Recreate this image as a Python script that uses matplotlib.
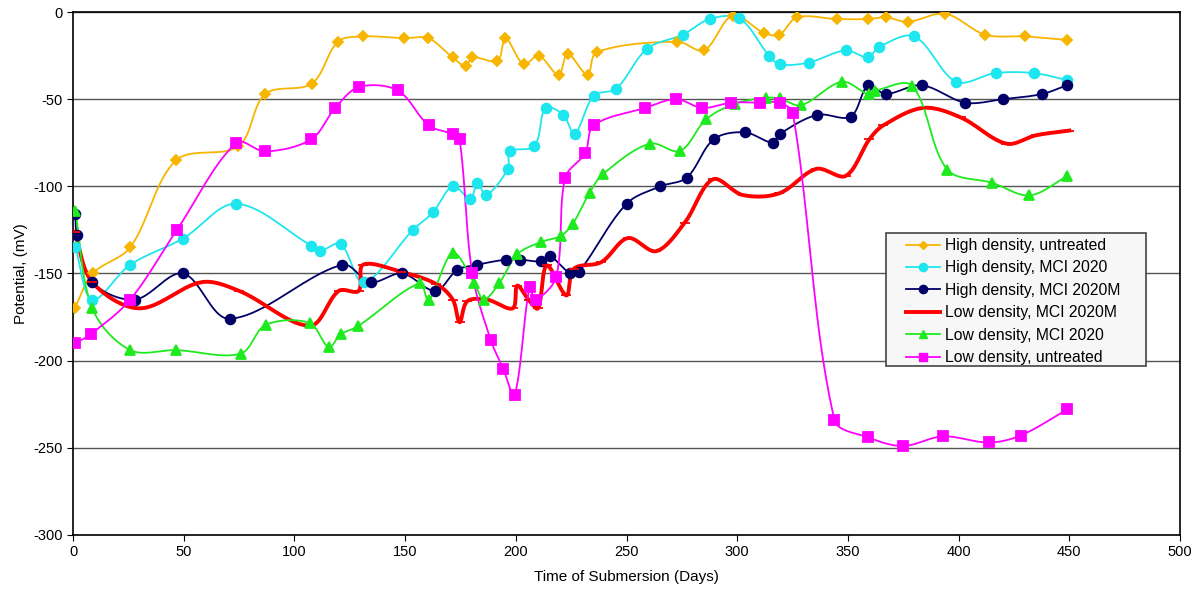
import numpy as np
import matplotlib.pyplot as plt
from matplotlib.patches import Rectangle

plt.rcParams['font.family'] = ['Liberation Sans', 'DejaVu Sans']
plt.rcParams['axes.unicode_minus'] = False

# High density, untreated
hd_untr_x = [0.7, 8.9, 25.8, 46.6, 74.7, 86.8, 107.9, 119.6, 130.8, 149.7, 160.5, 171.4, 177.3, 180.4,
             191.7, 195.3, 203.5, 210.3, 219.3, 223.4, 232.4, 236.5, 273, 285, 298, 312, 319, 327,
             345, 359, 367, 377, 394, 412, 430, 449]
hd_untr_y = [-170, -150, -135, -85, -77, -47, -41, -17, -14, -15, -15, -26, -31, -26,
             -28, -15, -30, -25, -36, -24, -36, -23, -17, -22, -2, -12, -13, -3,
             -4, -4, -3, -5.6, -1, -13, -14, -16]

# High density, MCI 2020
hd_mci_x = [1, 8.7, 25.8, 49.6, 73.7, 107.6, 111.6, 120.8, 131.3, 153.5, 162.5, 171.5, 179.5, 182.6,
            186.6, 196.4, 197.3, 208.4, 213.4, 221.5, 226.5, 235.2, 245.3, 259.3, 275.4, 287.5, 301,
            314.3, 319.1, 332.2, 349, 359, 364, 380, 398.9, 416.7, 433.9, 448.9]
hd_mci_y = [-135, -165, -145, -130, -110, -134, -137, -133, -155, -125, -115, -100, -107, -98,
            -105, -90, -80, -77, -55, -59, -70, -48, -44, -21, -13, -4, -3.6,
            -25, -30, -29, -22, -26, -20, -14, -40, -35, -35, -39]

# High density, MCI 2020M
hd_mcim_x = [1, 1.7, 8.7, 27.8, 49.6, 70.7, 121.6, 134.4, 148.7, 163.7, 173.5, 182.6, 195.7, 201.7,
             211.2, 215.2, 224.6, 228.5, 250, 265.3, 277.2, 289.4, 303.3, 316.1, 319.1, 336.1,
             351.2, 359.2, 367, 383.3, 403, 420, 437.8, 448.9]
hd_mcim_y = [-116, -128, -155, -165, -150, -176, -145, -155, -150, -160, -148, -145, -142, -142,
             -143, -140, -150, -149, -110, -100, -95, -73, -69, -75, -70, -59,
             -60, -42, -47, -42, -52, -50, -47, -42]

# Low density, MCI 2020M
ld_mcim_x = [0.7, 8.7, 30, 58, 75, 107, 120, 129, 131, 148, 164, 171.5, 174.6, 178, 187, 198.6,
             200.6, 206, 210, 214, 222.8, 226.2, 238.6, 250.6, 263.4, 276.2, 289, 302.5, 319,
             335.7, 349, 359.7, 366, 384, 401, 421.5, 435, 450]
ld_mcim_y = [-126, -155, -170, -155, -160, -180, -160, -160, -145, -149, -156, -165, -178, -166, -165, -170,
             -157, -165.5, -170, -145.4, -162.6, -147.3, -143.5, -129.7, -137.2, -121, -96, -105, -104,
             -90, -94, -73, -65, -55, -60.5, -75.5, -70.7, -68]

# Low density, MCI 2020
ld_mci_x = [1, 8.7, 25.8, 46.6, 75.7, 87, 106.8, 115.5, 120.8, 128.5, 156.5, 160.6, 171.5, 181.3,
            185.5, 192.6, 200.6, 211.2, 220.2, 225.7, 233.3, 239.3, 260.4, 274.2, 286, 299.2, 313.1,
            319.1, 328.9, 347.3, 359.4, 362.1, 378.9, 394.9, 415.2, 432, 448.9]
ld_mci_y = [-114, -170, -194, -194, -196, -179.5, -178.4, -192.3, -185, -180.4, -155.6, -165.5, -138.3, -155.6,
            -165, -155.4, -139, -132, -128.5, -121.5, -103.6, -93, -75.5, -79.7, -61.5, -52.5, -49.2,
            -49.6, -53.4, -40, -47.3, -45.2, -42.3, -90.4, -98, -105.2, -94.3]

# Low density, untreated
ld_untr_x = [1, 7.9, 25.8, 46.9, 73.8, 86.8, 107.6, 118.4, 129.2, 146.7, 160.6, 171.5, 174.6, 180.3,
             188.6, 194.4, 199.4, 206.2, 208.9, 218.2, 222.3, 231.3, 235.2, 258.4, 272.4, 284.2,
             297.3, 310.4, 319.1, 325.1, 343.9, 359, 374.8, 392.9, 413.7, 428, 449.1]
ld_untr_y = [-190, -185, -165, -125, -75, -80, -73, -55, -43, -45, -65, -70, -73, -150,
             -188, -205, -220, -158, -165, -152, -95, -81, -65, -55, -50, -55,
             -52, -52, -52, -58, -234, -244, -249, -243.5, -247, -243, -228]


def smooth(x, y, n=24, sx=2.214, sy=1.74):
    # bezier smoothing, tangents weighted by segment length (in pixel space) so short
    # segments next to long jumps don't overshoot
    x = np.asarray(x, float)
    y = np.asarray(y, float)
    px = np.concatenate([[x[0]], x, [x[-1]]])
    py = np.concatenate([[y[0]], y, [y[-1]]])
    seg = np.hypot(np.diff(px) * sx, np.diff(py) * sy)
    tx = px[2:] - px[:-2]
    ty = py[2:] - py[:-2]
    tot = seg[:-1] + seg[1:]
    tot[tot == 0] = 1
    fwd = seg[1:] / tot / 3
    bwd = seg[:-1] / tot / 3
    t = np.linspace(0, 1, n)[:, None]
    p0x, p3x = x[:-1], x[1:]
    p0y, p3y = y[:-1], y[1:]
    c1x = p0x + tx[:-1] * fwd[:-1]
    c1y = p0y + ty[:-1] * fwd[:-1]
    c2x = p3x - tx[1:] * bwd[1:]
    c2y = p3y - ty[1:] * bwd[1:]
    bx = (1-t)**3*p0x + 3*(1-t)**2*t*c1x + 3*(1-t)*t**2*c2x + t**3*p3x
    by = (1-t)**3*p0y + 3*(1-t)**2*t*c1y + 3*(1-t)*t**2*c2y + t**3*p3y
    return bx.T.ravel(), by.T.ravel()


series = [
    (hd_untr_x, hd_untr_y, 'High density, untreated', '#F7B500', 'D', 5, 1.3),
    (hd_mci_x, hd_mci_y, 'High density, MCI 2020', '#1EE6EE', 'o', 7, 1.3),
    (hd_mcim_x, hd_mcim_y, 'High density, MCI 2020M', '#000066', 'o', 7, 1.3),
    (ld_mcim_x, ld_mcim_y, 'Low density, MCI 2020M', '#FF0000', '_', 7, 2.8),
    (ld_mci_x, ld_mci_y, 'Low density, MCI 2020', '#1EEA1E', '^', 7, 1.3),
    (ld_untr_x, ld_untr_y, 'Low density, untreated', '#FF00FF', 's', 6.5, 1.3),
]

fig = plt.figure(figsize=(11.98, 6.03), dpi=100)
ax = fig.add_axes([0.061, 0.113, 0.924, 0.867])

for x, y, lab, col, mk, ms, lw in series:
    sx, sy = smooth(x, y)
    ax.plot(sx, sy, color=col, lw=lw, zorder=3)
    ax.plot(x, y, ls='none', marker=mk, color=col, ms=ms, mew=1.3, zorder=4)
    ax.plot([], [], color=col, lw=lw, marker=mk, ms=ms * 0.85, label=lab)

ax.set_xlim(0, 500)
ax.set_ylim(-300, 0)
ax.set_xticks(np.arange(0, 501, 50))
ax.set_yticks(np.arange(-300, 1, 50))
ax.yaxis.grid(True, color='#555555', lw=1)
ax.set_axisbelow(True)
for s in ax.spines.values():
    s.set_color('black')
    s.set_linewidth(1.2)
ax.tick_params(direction='out', length=4, labelsize=10.5, colors='black')
ax.set_xlabel('Time of Submersion (Days)', fontsize=11, labelpad=8)
ax.set_ylabel('Potential, (mV)', fontsize=11, labelpad=4)

# legend box
ax.add_patch(Rectangle((0.7344, 0.3231), 0.2349, 0.2543, transform=ax.transAxes,
                       facecolor='#F7F7F7', edgecolor='#444444', lw=1.2, zorder=5))
leg = ax.legend(loc='upper left', bbox_to_anchor=(0.7495, 0.5736), fontsize=11.3, frameon=False,
                handlelength=2.2, handletextpad=0.3, labelspacing=0.47, borderpad=0.2,
                borderaxespad=0)
leg.set_zorder(6)

fig.savefig('out.png', dpi=100)
